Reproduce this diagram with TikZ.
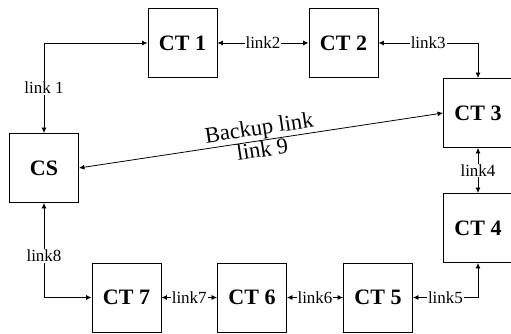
\documentclass[tikz,border=0pt]{standalone}
\usepackage{fontspec}
\setmainfont{Liberation Serif}
\usetikzlibrary{arrows.meta}
\begin{document}
\begin{tikzpicture}[x=1pt,y=-1pt,
  box/.style={draw,line width=0.9pt,minimum width=69pt,minimum height=69pt,inner sep=0pt,font=\fontsize{22}{24}\selectfont\bfseries},
  lnk/.style={line width=0.8pt,{Latex[length=5.5pt,width=5pt]}-{Latex[length=5.5pt,width=5pt]}},
  lbl/.style={fill=white,inner sep=1pt,font=\fontsize{17}{19}\selectfont},
  blbl/.style={inner sep=0.5pt,font=\fontsize{22.5}{24}\selectfont,sloped}]
\useasboundingbox (0,0) rectangle (511,334);
\node[box] (CS) at (44,168) {CS};
\node[box] (CT1) at (182.5,43) {CT 1};
\node[box] (CT2) at (343.5,43) {CT 2};
\node[box] (CT3) at (478,113) {CT 3};
\node[box] (CT4) at (478,228) {CT 4};
\node[box] (CT5) at (378,297.5) {CT 5};
\node[box] (CT6) at (252,297.5) {CT 6};
\node[box] (CT7) at (126.5,297.5) {CT 7};
\coordinate (c1) at (CS.north |- CT1.west);
\coordinate (c3) at (CT3.north |- CT2.east);
\coordinate (c5) at (CT4.south |- CT5.east);
\coordinate (c8) at (CS.south |- CT7.west);
\draw[lnk] (CT1.west) -- (c1) -- node[lbl,pos=0.5]{link 1} (CS.north);
\draw[lnk] (CT1.east) -- node[lbl]{link2} (CT2.west);
\draw[lnk] (CT2.east) -- node[lbl]{link3} (c3) -- (CT3.north);
\draw[lnk] (CT3.south) -- node[lbl]{link4} (CT4.north);
\draw[lnk] (CT5.east) -- node[lbl]{link5} (c5) -- (CT4.south);
\draw[lnk] (CT6.east) -- node[lbl]{link6} (CT5.west);
\draw[lnk] (CT7.east) -- node[lbl]{link7} (CT6.west);
\draw[lnk] (CS.south) -- node[lbl,pos=0.56]{link8} (c8) -- (CT7.west);
\draw[lnk] (CS.east) -- node[blbl,above]{Backup link} node[blbl,below]{link 9} (CT3.west);
\end{tikzpicture}
\end{document}
